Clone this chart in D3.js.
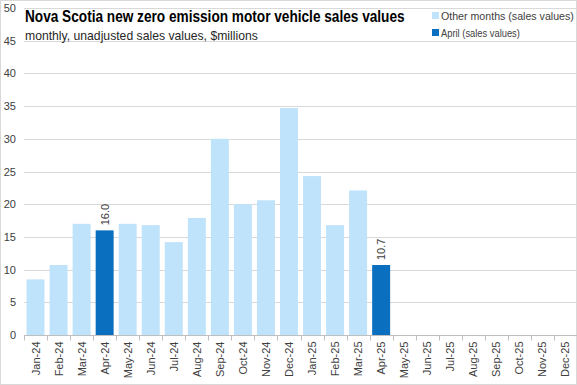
<!DOCTYPE html>
<html>
<head>
<meta charset="utf-8">
<script src="https://cdn.jsdelivr.net/npm/d3@7"></script>
<style>
  body { margin: 0; background: #fff; }
  svg { display: block; font-family: "Liberation Sans", Arial, sans-serif; }
</style>
</head>
<body>
<div id="chart"></div>
<script>
// months on the x axis (two years, only 16 reported so far)
var months = ["Jan-24","Feb-24","Mar-24","Apr-24","May-24","Jun-24","Jul-24","Aug-24",
  "Sep-24","Oct-24","Nov-24","Dec-24","Jan-25","Feb-25","Mar-25","Apr-25",
  "May-25","Jun-25","Jul-25","Aug-25","Sep-25","Oct-25","Nov-25","Dec-25"];
// sales values, $millions
var salesValues = [8.5, 10.7, 17.0, 16.0, 17.0, 16.8, 14.2, 17.9,
  30.0, 20.0, 20.6, 34.7, 24.3, 16.8, 22.1, 10.7];
var yTicks = [0, 5, 10, 15, 20, 25, 30, 35, 40, 45, 50];
var legendLabels = ["Other months (sales values)", "April (sales values)"];

var width = 577, height = 385;
var margin = { top: 8, right: 0, bottom: 50, left: 24 };
var light = "#bfe3fb", dark = "#0a6fbe";

var data = salesValues.map(function(v, i) {
  return { month: months[i], value: v, april: months[i].slice(0, 3) === "Apr" };
});

var svg = d3.select("#chart").append("svg")
  .attr("width", width)
  .attr("height", height);

// squeeze a text horizontally to a target width (narrow font look)
function squeeze(sel, x0, yb, w) {
  var natural = sel.node().getComputedTextLength();
  sel.attr("transform", "translate(" + x0 + "," + yb + ") scale(" + (w / natural) + ",1)");
}

// chart border
svg.append("rect")
  .attr("x", 0.5).attr("y", 0.5)
  .attr("width", width - 1).attr("height", height - 1)
  .attr("fill", "none").attr("stroke", "#d9d9d9");

var x = d3.scaleBand().domain(months)
  .range([margin.left, width - margin.right])
  .paddingInner(0.22).paddingOuter(0.11);
var y = d3.scaleLinear().domain([0, 50])
  .range([height - margin.bottom, margin.top]);

// gridlines
svg.append("g").selectAll("line")
  .data(yTicks.filter(function(d){ return d > 0; }))
  .enter().append("line")
  .attr("x1", margin.left).attr("x2", width - 1)
  .attr("y1", d => Math.round(y(d)) + 0.5).attr("y2", d => Math.round(y(d)) + 0.5)
  .attr("stroke", "#d9d9d9");

// y labels
svg.append("g").selectAll("text")
  .data(yTicks).enter().append("text")
  .attr("x", 16).attr("y", d => y(d) + 4)
  .attr("text-anchor", "end")
  .attr("font-size", "11px").attr("fill", "#404040")
  .text(d => d);

// bars
svg.append("g").selectAll("rect")
  .data(data).enter().append("rect")
  .attr("x", d => x(d.month))
  .attr("width", x.bandwidth())
  .attr("y", d => y(d.value))
  .attr("height", d => y(0) - y(d.value))
  .attr("fill", d => d.april ? dark : light);

// data labels for april bars
svg.append("g").selectAll("text")
  .data(data.filter(d => d.april)).enter().append("text")
  .attr("transform", d => "translate(" + (x(d.month) + x.bandwidth() / 2 + 4) + "," + (y(d.value) - 5) + ") rotate(-90)")
  .attr("font-size", "11px").attr("fill", "#404040")
  .text(d => d.value.toFixed(1));

// x axis
var y0 = Math.round(y(0)) + 0.5;
var xAxis = svg.append("g").attr("transform", "translate(0," + y0 + ")");
xAxis.append("line")
  .attr("x1", margin.left).attr("x2", width)
  .attr("stroke", "#bfbfbf");
var step = x.step();
xAxis.selectAll("line.tick")
  .data(d3.range(months.length + 1)).enter().append("line")
  .attr("class", "tick")
  .attr("x1", i => Math.round(margin.left + i * step) + 0.5)
  .attr("x2", i => Math.round(margin.left + i * step) + 0.5)
  .attr("y1", 0).attr("y2", 5)
  .attr("stroke", "#bfbfbf");
xAxis.selectAll("text")
  .data(months).enter().append("text")
  .attr("transform", d => "translate(" + (x(d) + x.bandwidth() / 2 + 4) + ",6) rotate(-90)")
  .attr("text-anchor", "end")
  .attr("font-size", "11px").attr("fill", "#404040")
  .text(d => d);

// title
var title = svg.append("text")
  .attr("font-size", "16.5px").attr("font-weight", "bold").attr("fill", "#000")
  .text("Nova Scotia new zero emission motor vehicle sales values");
squeeze(title, 25, 22, 380);
var subtitle = svg.append("text")
  .attr("font-size", "13px").attr("fill", "#262626")
  .text("monthly, unadjusted sales values,  $millions");
squeeze(subtitle, 25, 40, 233);

// legend
var legendWidths = [133, 79];
var legend = svg.append("g").attr("transform", "translate(432,15)");
legendLabels.forEach(function(lbl, i) {
  var g = legend.append("g").attr("transform", "translate(0," + (i * 17) + ")");
  g.append("rect").attr("x", 0).attr("y", -3).attr("width", 7).attr("height", 7)
    .attr("fill", i === 0 ? light : dark);
  var t = g.append("text")
    .attr("font-size", "11.5px").attr("fill", "#404040")
    .text(lbl);
  squeeze(t, 9, 4.5, legendWidths[i]);
});
</script>
</body>
</html>
